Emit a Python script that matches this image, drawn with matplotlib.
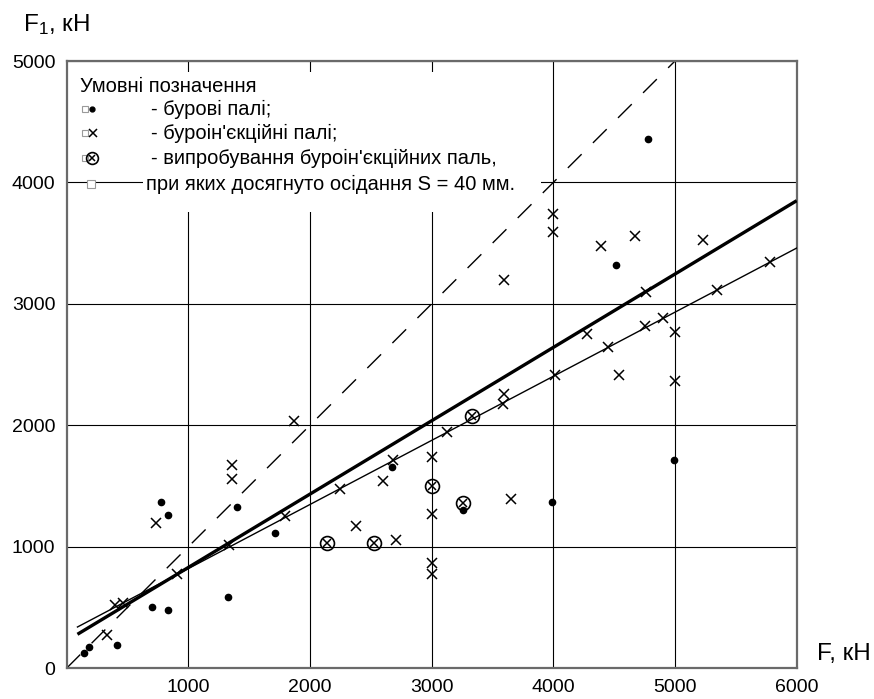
import matplotlib
matplotlib.use("Agg")
import matplotlib.pyplot as plt
from matplotlib.patches import Rectangle

plt.rcParams['font.family'] = ['Liberation Sans', 'DejaVu Sans']
plt.rcParams['mathtext.default'] = 'regular'
plt.rcParams['lines.scale_dashes'] = False

# ---------------- data ----------------
# бурові палі (dots)
bored_x = [147, 185, 418, 700, 776, 837, 837, 1330, 1401, 1711, 2677, 3255, 3992, 4518, 4781, 4994]
bored_y = [128, 178, 194, 507, 1368, 1261, 482, 589, 1324, 1115, 1658, 1302, 1368, 3322, 4359, 1713]

# буроін'єкційні палі (crosses)
inj_x = [330, 398, 467, 735, 911, 1338, 1357, 1357, 1795, 1872, 2247, 2376, 2603, 2686, 2710,
         3000, 3000, 3000, 3000, 3129, 3589, 3595, 3595, 3650, 4000, 4000, 4014, 4277, 4392,
         4452, 4540, 4671, 4756, 4759, 4899, 5000, 5000, 5233, 5343, 5781]
inj_y = [271, 521, 540, 1200, 776, 1014, 1557, 1672, 1252, 2034, 1480, 1170, 1545, 1713, 1053,
         1740, 1271, 868, 775, 1946, 2173, 2261, 3201, 1392, 3742, 3596, 2418, 2749, 3479,
         2645, 2412, 3563, 2821, 3097, 2883, 2768, 2365, 3528, 3117, 3344]

# випробування з S = 40 мм (circled crosses)
test_x = [2138, 2524, 3000, 3255, 3329]
test_y = [1030, 1030, 1499, 1357, 2080]

# lines
equal_x = [0, 5000]
equal_y = [0, 5000]
thick_x = [90, 6000]
thick_y = [280, 3850]
thin_x = [90, 6000]
thin_y = [340, 3460]

xticks = [1000, 2000, 3000, 4000, 5000, 6000]
yticks = [0, 1000, 2000, 3000, 4000, 5000]

legend_title = "Умовні позначення"
legend_lines = ["- бурові палі;", "- буроін'єкційні палі;",
                "- випробування буроін'єкційних паль,",
                "при яких досягнуто осідання S = 40 мм."]

# ---------------- figure ----------------
W, H = 874, 699
fig = plt.figure(figsize=(W / 100, H / 100), dpi=100)


def fx(px):
    return px / W


def fy(py):
    return 1 - py / H


ax = fig.add_axes([fx(66.5), fy(668.3), (796.7 - 66.5) / W, (668.3 - 61) / H])
ax.set_xlim(0, 6000)
ax.set_ylim(0, 5000)
ax.set_xticks(xticks)
ax.set_yticks(yticks)
ax.tick_params(axis='both', length=0, labelsize=14)
ax.tick_params(axis='x', pad=8)
ax.tick_params(axis='y', pad=8)
ax.set_axisbelow(True)
ax.grid(True, color='black', lw=0.8)
for s in ax.spines.values():
    s.set_color('#6a6a6a')
    s.set_linewidth(1.6)

# white box behind legend
ax.add_patch(Rectangle((fx(143), fy(212)), (541 - 143) / W, (212 - 72) / H,
                       transform=fig.transFigure, facecolor='white', edgecolor='none', zorder=1))

# lines
ax.plot(equal_x, equal_y, color='black', lw=1.0, dashes=(14, 11.5), zorder=2)
ax.plot(thick_x, thick_y, color='black', lw=2.4, zorder=3, solid_capstyle='butt')
ax.plot(thin_x, thin_y, color='black', lw=1.0, zorder=3)

# points
ax.plot(bored_x, bored_y, 'o', color='black', ms=4.5, zorder=4)
ax.plot(inj_x, inj_y, 'x', color='black', ms=7, mew=1.1, zorder=4)
ax.plot(test_x, test_y, 'o', mfc='none', mec='black', ms=10, mew=1.2, zorder=4)
ax.plot(test_x, test_y, 'x', color='black', ms=6, mew=1.1, zorder=4)

# axis labels
fig.text(fx(23), fy(31), "F$_1$, кН", fontsize=17.5, ha='left', va='baseline')
fig.text(fx(817), fy(660), "F, кН", fontsize=17.5, ha='left', va='baseline')

# legend
tr = fig.transFigure
lfs = 14.5
ax.text(fx(80), fy(87), legend_title, transform=tr, fontsize=lfs, ha='left', va='center', zorder=5)
rows_y = [109, 133, 158, 184]
for i, t in enumerate(legend_lines):
    x0 = 151 if i < 3 else 146
    ax.text(fx(x0), fy(rows_y[i]), t, transform=tr, fontsize=lfs, ha='left', va='center', zorder=5)
sq_kw = dict(marker='s', ls='none', ms=4.5, mfc='white', mec='#9a9a9a', mew=0.8,
             transform=tr, clip_on=False, zorder=5)
for py in rows_y[:3]:
    ax.plot([fx(85)], [fy(py)], **sq_kw)
ax.plot([fx(90.5)], [fy(rows_y[3])], **dict(sq_kw, ms=6))
ax.plot([fx(92)], [fy(rows_y[0])], 'o', color='black', ms=3.5, transform=tr, clip_on=False, zorder=6)
ax.plot([fx(93)], [fy(rows_y[1])], 'x', color='black', ms=6, mew=1.1, transform=tr, clip_on=False, zorder=6)
ax.plot([fx(92)], [fy(rows_y[2])], 'o', mfc='none', mec='black', ms=8.5, mew=1.2,
        transform=tr, clip_on=False, zorder=6)
ax.plot([fx(92)], [fy(rows_y[2])], 'x', color='black', ms=5, mew=1.1, transform=tr, clip_on=False, zorder=6)

fig.savefig("out.png", dpi=100)
